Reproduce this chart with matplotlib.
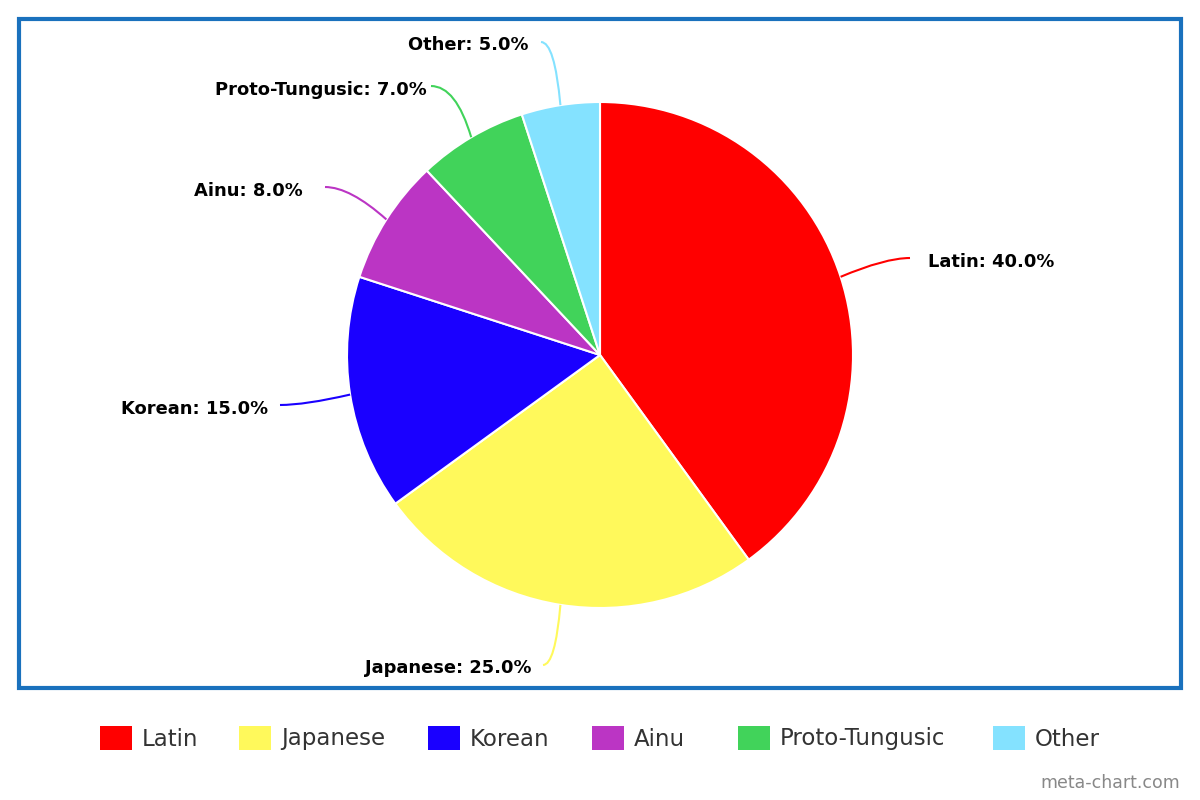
import matplotlib.pyplot as plt
import numpy as np
from matplotlib.patches import Rectangle, PathPatch
from matplotlib.path import Path

languages = ['Latin', 'Japanese', 'Korean', 'Ainu', 'Proto-Tungusic', 'Other']
shares = [40.0, 25.0, 15.0, 8.0, 7.0, 5.0]
colors = ['#ff0000', '#fff95b', '#1a00ff', '#bb35c4', '#41d35a', '#84e2ff']

# layout (pixel coords, y down)
cx, cy, r = 600, 355, 253
conn_end = [(910, 258), (543, 665), (280, 405), (325, 187), (431, 86), (541, 42)]
text_pos = [(928, 262, 'left'), (531, 668, 'right'), (268, 409, 'right'),
            (303, 191, 'right'), (427, 90, 'right'), (528, 45, 'right')]
legend_x = [100, 239, 428, 592, 738, 993]

fig = plt.figure(figsize=(12, 8), dpi=100)
ax = fig.add_axes([0, 0, 1, 1])

wedges, _ = ax.pie(shares, colors=colors, startangle=-90, counterclock=True,
                   center=(cx, cy), radius=r,
                   wedgeprops=dict(edgecolor='white', linewidth=1.5))
ax.set_xlim(0, 1200)
ax.set_ylim(800, 0)
ax.set_aspect('auto')
ax.axis('off')

# connectors + labels
for w, name, val, col, (ex, ey), (tx, ty, ha) in zip(wedges, languages, shares, colors, conn_end, text_pos):
    mid = np.radians((w.theta1 + w.theta2) / 2)
    px, py = cx + r * np.cos(mid), cy + r * np.sin(mid)
    s = np.sign(px - ex)
    c = min(abs(px - ex) * 0.7, 25)
    path = Path([(px, py), (ex + s * c, ey), (ex, ey)], [Path.MOVETO, Path.CURVE3, Path.CURVE3])
    ax.add_patch(PathPatch(path, fill=False, edgecolor=col, lw=1.5))
    ax.text(tx, ty, f'{name}: {val:.1f}%', ha=ha, va='center', fontsize=12.9,
            fontweight='bold', color='black')

# frame
ax.add_patch(Rectangle((19, 19), 1162, 669, fill=False, edgecolor='#1a71bd', lw=3))

# legend
for x, name, col in zip(legend_x, languages, colors):
    ax.add_patch(Rectangle((x, 726), 32, 24, facecolor=col, edgecolor='none'))
    ax.text(x + 42, 739, name, ha='left', va='center', fontsize=16.5, color='#333333')

ax.text(1180, 783, 'meta-chart.com', ha='right', va='center', fontsize=12.5, color='#888888')

fig.savefig('out.png', dpi=100)
